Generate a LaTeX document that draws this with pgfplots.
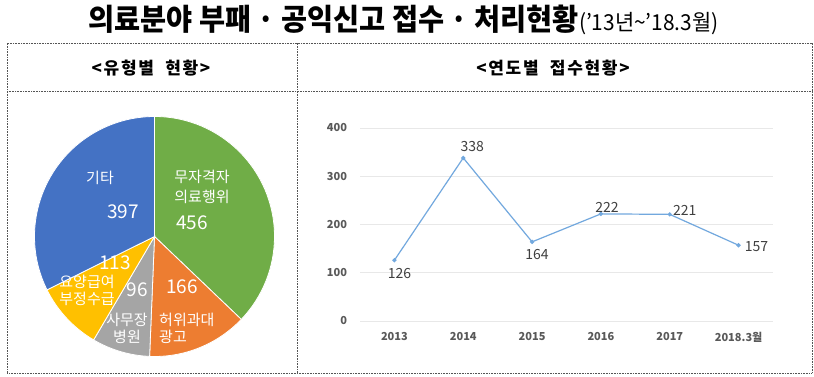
\documentclass[border=0pt]{standalone}
\usepackage{pgfplots}
\pgfplotsset{compat=1.18}
\usepackage{pgfplotstable}
\usepackage{fontspec}
\setmainfont{Noto Sans CJK KR}
\newfontfamily\hdrfont[LetterSpace=10]{Noto Sans CJK KR}
\definecolor{pgreen}{HTML}{70AD47}
\definecolor{porange}{HTML}{ED7D31}
\definecolor{pgray}{HTML}{A5A5A5}
\definecolor{pyellow}{HTML}{FFC000}
\definecolor{pblue}{HTML}{4472C4}
\definecolor{linec}{HTML}{72A8DE}
\definecolor{tickc}{HTML}{595959}
\definecolor{labc}{HTML}{404040}
\definecolor{gridc}{HTML}{E8E8E8}
\definecolor{framec}{HTML}{555555}

\pgfplotstableread{
x y dx dy
0 126 5 -13
1 338 9 11
2 164 5 -13
3 222 6 6
4 221 15 4
5 157 18 -1
}\linedata

\begin{document}
\begin{tikzpicture}[x=1pt,y=1pt]
\useasboundingbox (0,0) rectangle (814,377);
\fill[white] (0,0) rectangle (814,377);

% title
\node[anchor=base west, inner sep=0pt] at (88,346)
  {\scalebox{0.945}[1]{\fontsize{30}{32}\selectfont\bfseries 의료분야 부패 · 공익신고 접수 · 처리현황}\scalebox{0.95}[1]{\fontsize{22}{24}\selectfont (’13년\textasciitilde’18.3월)}};

% frame
\begin{scope}[framec, line width=0.7pt, dash pattern=on 0.8pt off 0.8pt]
\draw (7,4) rectangle (812,334);
\draw (7,286) -- (812,286);
\draw (297,4) -- (297,334);
\end{scope}

% headers
\node[inner sep=0pt] at (151,309) {\hdrfont\fontsize{17}{19}\selectfont\bfseries <유형별\ \ 현황>};
\node[inner sep=0pt] at (553,309) {\hdrfont\fontsize{17}{19}\selectfont\bfseries <연도별\ \ 접수현황>};

% pie
\pgfmathsetmacro{\tot}{456+166+96+113+397}
\pgfmathsetmacro{\aA}{90}
\pgfmathsetmacro{\aB}{\aA-456/\tot*360}
\pgfmathsetmacro{\aC}{\aB-166/\tot*360}
\pgfmathsetmacro{\aD}{\aC-96/\tot*360}
\pgfmathsetmacro{\aE}{\aD-113/\tot*360}
\pgfmathsetmacro{\aF}{\aE-397/\tot*360}
\begin{axis}[at={(154.5pt,140.5pt)}, anchor=center, hide axis, scale only axis,
  width=240pt, height=240pt, xmin=-1, xmax=1, ymin=-1, ymax=1, clip=false]
\fill[pgreen, draw=white, line width=0.8pt] (axis cs:0,0) -- ++(\aA:120pt) arc[start angle=\aA, end angle=\aB, radius=120pt] -- cycle;
\fill[porange, draw=white, line width=0.8pt] (axis cs:0,0) -- ++(\aB:120pt) arc[start angle=\aB, end angle=\aC, radius=120pt] -- cycle;
\fill[pgray, draw=white, line width=0.8pt] (axis cs:0,0) -- ++(\aC:120pt) arc[start angle=\aC, end angle=\aD, radius=120pt] -- cycle;
\fill[pyellow, draw=white, line width=0.8pt] (axis cs:0,0) -- ++(\aD:120pt) arc[start angle=\aD, end angle=\aE, radius=120pt] -- cycle;
\fill[pblue, draw=white, line width=0.8pt] (axis cs:0,0) -- ++(\aE:120pt) arc[start angle=\aE, end angle=\aF, radius=120pt] -- cycle;
\end{axis}

% pie labels
\begin{scope}[every node/.style={text=white, inner sep=0pt}]
\node[font=\fontsize{15}{17}\selectfont] at (100,199) {기타};
\node[font=\fontsize{19}{21}\selectfont] at (123,165) {397};
\node[font=\fontsize{15}{17}\selectfont] at (202,200) {무자격자};
\node[font=\fontsize{15}{17}\selectfont] at (202,180) {의료행위};
\node[font=\fontsize{19}{21}\selectfont] at (192,154) {456};
\node[font=\fontsize{19}{21}\selectfont] at (182,90) {166};
\node[font=\fontsize{15}{17}\selectfont, anchor=west] at (159,57) {허위과대};
\node[font=\fontsize{15}{17}\selectfont, anchor=west] at (159,40) {광고};
\node[font=\fontsize{19}{21}\selectfont] at (137,87) {96};
\node[font=\fontsize{15}{17}\selectfont] at (127,57) {사무장};
\node[font=\fontsize{15}{17}\selectfont] at (127,40) {병원};
\node[font=\fontsize{19}{21}\selectfont] at (115,114) {113};
\node[font=\fontsize{15}{17}\selectfont] at (87,95) {요양급여};
\node[font=\fontsize{15}{17}\selectfont] at (87,78) {부정수급};
\end{scope}

% line chart
\begin{axis}[at={(360pt,56pt)}, anchor=south west, scale only axis,
  width=413pt, height=193pt,
  xmin=-0.5, xmax=5.5, ymin=0, ymax=400,
  ytick={0,100,200,300,400}, xtick={0,1,2,3,4,5},
  xticklabels={2013,2014,2015,2016,2017,2018.3월},
  axis line style={draw=none}, major tick length=0pt,
  ymajorgrids, grid style={gridc, line width=0.6pt},
  /pgf/number format/assume math mode=true,
  tick label style={font=\fontsize{11}{13}\selectfont\bfseries, text=tickc},
  yticklabel style={xshift=-9.5pt},
  xticklabel style={yshift=-8pt},
  clip=false]
\addplot[linec, line width=1.2pt, mark=*, mark size=1.5pt,
  mark options={fill=linec, draw=linec},
  point meta=\thisrow{y},
  nodes near coords,
  visualization depends on={\thisrow{dx} \as \dx},
  visualization depends on={\thisrow{dy} \as \dy},
  every node near coord/.append style={anchor=center, xshift=\dx pt, yshift=\dy pt,
    font=\fontsize{14}{16}\selectfont, text=labc, inner sep=0pt}
] table[x=x, y=y] {\linedata};
\end{axis}
\end{tikzpicture}
\end{document}
